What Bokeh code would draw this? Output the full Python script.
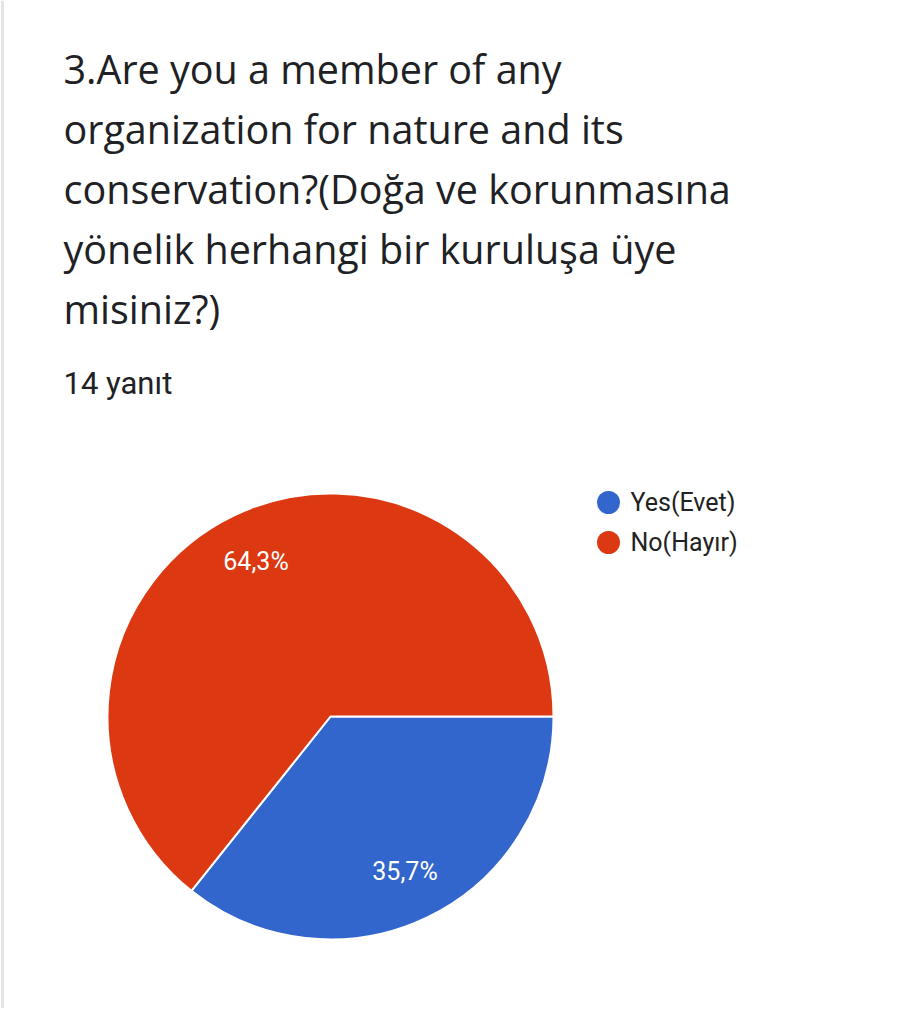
import math
from bokeh.plotting import figure
from bokeh.models import Range1d, ColumnDataSource
from bokeh.core.properties import value
from bokeh.embed import file_html
from bokeh.resources import INLINE

# ---- data ----
title_lines = [
    "3.Are you a member of any",
    "organization for nature and its",
    "conservation?(Doğa ve korunmasına",
    "yönelik herhangi bir kuruluşa üye",
    "misiniz?)",
]
subtitle = "14 yanıt"
categories = ["Yes(Evet)", "No(Hayır)"]
counts = [5, 9]
colors = ["#3366cc", "#dc3912"]

# ---- layout (page pixel coords, y measured from top) ----
W, H = 888, 1008
PAGE_H = 1024


def Y(py):
    return PAGE_H - py


p = figure(width=W, height=H, output_backend="svg", toolbar_location=None,
           x_range=Range1d(0, W), y_range=Range1d(PAGE_H - H, PAGE_H),
           min_border=0)
p.axis.visible = False
p.grid.visible = False
p.outline_line_color = None
p.background_fill_color = "white"
p.border_fill_color = "white"

# faint card edge on the left
p.line(x=[2, 2], y=[Y(0), Y(1024)], line_color="#e4e4e4", line_width=3)

FONT_T = "Open Sans"
# title
for i, line in enumerate(title_lines):
    p.text(x=[63], y=[Y(68 + 60 * i)], text=[line], text_font=value(FONT_T),
           text_font_size="39.5px", text_color="#202124", text_baseline="alphabetic")

p.text(x=[63], y=[Y(383)], text=[subtitle], text_font=value("Roboto"),
       text_font_size="31px", text_color="#202124", text_baseline="alphabetic")

# pie
cx, cy, r = 330, Y(716), 223
total = sum(counts)
fracs = [c / total for c in counts]
starts, ends, mids = [], [], []
# first slice goes clockwise from 3 o'clock, the rest follow
a = 0.0
for f in fracs:
    e = a - 2 * math.pi * f
    starts.append(e)
    ends.append(a)
    mids.append((a + e) / 2)
    a = e

src = ColumnDataSource(dict(start=starts, end=ends, color=colors, cat=categories))
p.wedge(x=cx, y=cy, radius=r, start_angle="start", end_angle="end",
        fill_color="color", line_color="white", line_width=2, source=src)

lab_r = 0.77 * r
lx = [cx + lab_r * math.cos(m) for m in mids]
ly = [cy + lab_r * math.sin(m) for m in mids]
labels = [f"{100 * f:.1f}%".replace(".", ",") for f in fracs]
p.text(x=lx, y=ly, text=labels, text_font=value("Roboto"), text_font_size="25px",
       text_color="white", text_align="center", text_baseline="middle")

# legend
leg_x, leg_y0, leg_dy = 608, 502, 40
ly_leg = [Y(leg_y0 + leg_dy * i) for i in range(len(categories))]
p.scatter(x=[leg_x] * len(categories), y=ly_leg, size=23, fill_color=colors,
          line_color=None)
p.text(x=[leg_x + 22] * len(categories), y=ly_leg, text=categories,
       text_font=value("Roboto"), text_font_size="25px", text_color="#222222",
       text_baseline="middle")

open("out.html", "w").write(file_html(p, INLINE))
